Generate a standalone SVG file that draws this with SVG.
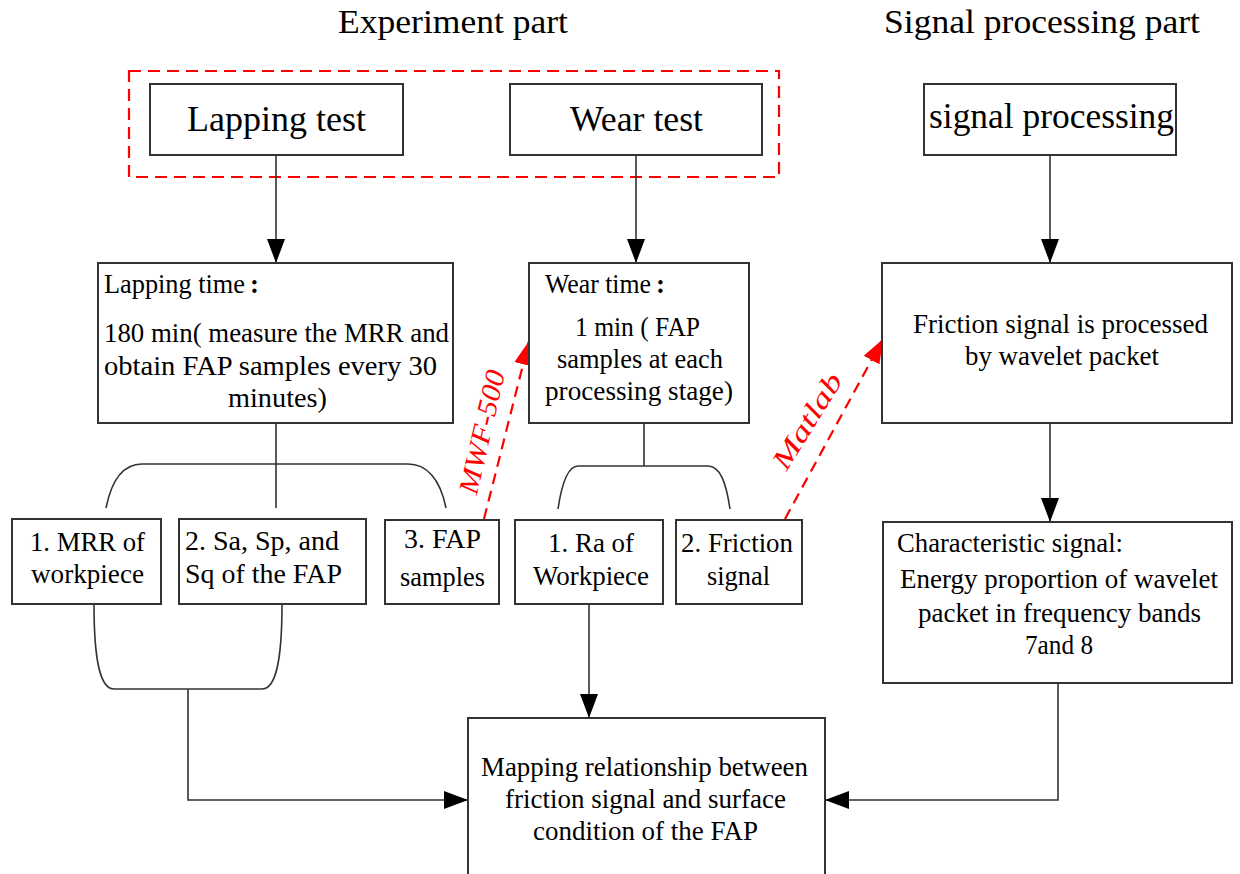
<svg xmlns="http://www.w3.org/2000/svg" width="1240" height="874" viewBox="0 0 1240 874">
  <defs>
    <marker id="arrow" markerUnits="userSpaceOnUse" markerWidth="24" markerHeight="18" viewBox="0 0 24 18" refX="24" refY="9" orient="auto">
      <path d="M0,0 L24,9 L0,18 z" fill="#000"/>
    </marker>
    <marker id="arrowRed" markerUnits="userSpaceOnUse" markerWidth="24" markerHeight="18" viewBox="0 0 24 18" refX="24" refY="9" orient="auto">
      <path d="M0,0 L24,9 L0,18 z" fill="#ff0000"/>
    </marker>
    <style>
      .box { fill: #fff; stroke: #333; stroke-width: 2; }
      .line { fill: none; stroke: #333; stroke-width: 1.6; }
      .red { fill: none; stroke: #ff0000; stroke-width: 2.2; stroke-dasharray: 11 7; }
      text { font-family: "Liberation Serif", "Noto Sans CJK SC", serif; fill: #000; }
      .title { font-size: 33px; }
      .big { font-size: 35px; }
      .t { font-size: 27px; }
      .lbl { font-size: 28px; font-style: italic; fill: #ff0000; }
    </style>
  </defs>
  <rect width="1240" height="874" fill="#fff"/>

  <!-- section headings -->
  <text class="title" x="338" y="33" textLength="230" lengthAdjust="spacingAndGlyphs">Experiment part</text>
  <text class="title" x="884" y="33" textLength="316" lengthAdjust="spacingAndGlyphs">Signal processing part</text>

  <!-- experiment grouping frame -->
  <rect x="129" y="71" width="650" height="106" fill="none" stroke="#ff0000" stroke-width="2.2" stroke-dasharray="12 7"/>

  <!-- connectors -->
  <g id="connectors">
    <line class="line" x1="276" y1="155" x2="276" y2="263" marker-end="url(#arrow)"/>
    <line class="line" x1="636" y1="155" x2="636" y2="263" marker-end="url(#arrow)"/>
    <line class="line" x1="1050" y1="155" x2="1050" y2="263" marker-end="url(#arrow)"/>
    <line class="line" x1="1050" y1="423" x2="1050" y2="522" marker-end="url(#arrow)"/>

    <!-- lapping branch brace -->
    <line class="line" x1="276" y1="423" x2="276" y2="508"/>
    <path class="line" d="M106,508 C112,478 124,464 142,464 L408,464 C426,464 440,478 446,508"/>

    <!-- wear branch brace -->
    <line class="line" x1="644" y1="423" x2="644" y2="466"/>
    <path class="line" d="M558,509 C562,482 568,466 578,466 L708,466 C720,466 726,482 730,509"/>

    <!-- lower brace joining results 1 and 2 -->
    <path class="line" d="M94,604 C94,660 100,689 114,689 L262,689 C276,689 282,660 282,604"/>
    <polyline class="line" points="188,689 188,800 468,800" marker-end="url(#arrow)"/>

    <line class="line" x1="589" y1="604" x2="589" y2="718" marker-end="url(#arrow)"/>
    <polyline class="line" points="1058,683 1058,800 825,800" marker-end="url(#arrow)"/>

    <!-- tool links -->
    <line class="red" x1="484" y1="519" x2="529" y2="341" marker-end="url(#arrowRed)"/>
    <line class="red" x1="785" y1="519" x2="883" y2="339" marker-end="url(#arrowRed)"/>
    <text class="lbl" transform="translate(491,434) rotate(-77)" x="-63" textLength="126" lengthAdjust="spacingAndGlyphs">MWF-500</text>
    <text class="lbl" transform="translate(815,426) rotate(-58)" x="-54" textLength="108" lengthAdjust="spacingAndGlyphs">Matlab</text>
  </g>

  <g id="lapping-test">
    <rect class="box" x="150" y="84" width="253" height="71"/>
    <text class="big" x="187" y="131" textLength="179" lengthAdjust="spacingAndGlyphs">Lapping test</text>
  </g>
  <g id="wear-test">
    <rect class="box" x="510" y="84" width="252" height="71"/>
    <text class="big" x="570" y="131" textLength="133" lengthAdjust="spacingAndGlyphs">Wear test</text>
  </g>
  <g id="signal-processing">
    <rect class="box" x="924" y="84" width="252" height="71"/>
    <text class="big" x="929" y="128" textLength="245" lengthAdjust="spacingAndGlyphs">signal processing</text>
  </g>

  <g id="lapping-time">
    <rect class="box" x="98" y="263" width="355" height="160"/>
    <text class="t" x="104" y="293"><tspan textLength="141" lengthAdjust="spacingAndGlyphs">Lapping time</tspan><tspan font-weight="bold" dx="5">:</tspan></text>
    <text class="t" x="104" y="342" textLength="345" lengthAdjust="spacingAndGlyphs">180 min( measure the MRR and</text>
    <text class="t" x="104" y="375" textLength="333" lengthAdjust="spacingAndGlyphs">obtain FAP samples  every 30</text>
    <text class="t" x="228" y="407" textLength="99" lengthAdjust="spacingAndGlyphs">minutes)</text>
  </g>
  <g id="wear-time">
    <rect class="box" x="529" y="263" width="220" height="160"/>
    <text class="t" x="545" y="293"><tspan textLength="106" lengthAdjust="spacingAndGlyphs">Wear time</tspan><tspan font-weight="bold" dx="5">:</tspan></text>
    <text class="t" x="575" y="336" textLength="125" lengthAdjust="spacingAndGlyphs">1 min ( FAP</text>
    <text class="t" x="557" y="368" textLength="166" lengthAdjust="spacingAndGlyphs">samples at each</text>
    <text class="t" x="545" y="400" textLength="188" lengthAdjust="spacingAndGlyphs">processing stage)</text>
  </g>
  <g id="wavelet-processing">
    <rect class="box" x="882" y="263" width="350" height="160"/>
    <text class="t" x="913" y="333" textLength="295" lengthAdjust="spacingAndGlyphs">Friction signal is processed</text>
    <text class="t" x="965" y="365" textLength="194" lengthAdjust="spacingAndGlyphs">by wavelet packet</text>
  </g>

  <g id="mrr">
    <rect class="box" x="12" y="519" width="149" height="85"/>
    <text class="t" x="30" y="551" textLength="115" lengthAdjust="spacingAndGlyphs">1. MRR of</text>
    <text class="t" x="31" y="583" textLength="113" lengthAdjust="spacingAndGlyphs">workpiece</text>
  </g>
  <g id="roughness-fap">
    <rect class="box" x="179" y="519" width="187" height="85"/>
    <text class="t" x="185" y="550" textLength="154" lengthAdjust="spacingAndGlyphs">2. Sa, Sp, and</text>
    <text class="t" x="185" y="583" textLength="157" lengthAdjust="spacingAndGlyphs">Sq of the FAP</text>
  </g>
  <g id="fap-samples">
    <rect class="box" x="385" y="520" width="114" height="84"/>
    <text class="t" x="404" y="548" textLength="77" lengthAdjust="spacingAndGlyphs">3. FAP</text>
    <text class="t" x="400" y="586" textLength="85" lengthAdjust="spacingAndGlyphs">samples</text>
  </g>
  <g id="ra-workpiece">
    <rect class="box" x="515" y="520" width="148" height="84"/>
    <text class="t" x="548" y="552" textLength="86" lengthAdjust="spacingAndGlyphs">1. Ra of</text>
    <text class="t" x="533" y="585" textLength="116" lengthAdjust="spacingAndGlyphs">Workpiece</text>
  </g>
  <g id="friction-signal">
    <rect class="box" x="676" y="520" width="126" height="84"/>
    <text class="t" x="681" y="552" textLength="112" lengthAdjust="spacingAndGlyphs">2. Friction</text>
    <text class="t" x="707" y="585" textLength="63" lengthAdjust="spacingAndGlyphs">signal</text>
  </g>
  <g id="characteristic-signal">
    <rect class="box" x="883" y="522" width="349" height="161"/>
    <text class="t" x="897" y="552" textLength="226" lengthAdjust="spacingAndGlyphs">Characteristic signal:</text>
    <text class="t" x="900" y="588" textLength="318" lengthAdjust="spacingAndGlyphs">Energy proportion of wavelet</text>
    <text class="t" x="918" y="622" textLength="283" lengthAdjust="spacingAndGlyphs">packet in frequency bands</text>
    <text class="t" x="1025" y="654" textLength="68" lengthAdjust="spacingAndGlyphs">7and 8</text>
  </g>
  <g id="mapping">
    <rect class="box" x="468" y="718" width="357" height="170"/>
    <text class="t" x="481" y="776" textLength="327" lengthAdjust="spacingAndGlyphs">Mapping relationship between</text>
    <text class="t" x="505" y="808" textLength="281" lengthAdjust="spacingAndGlyphs">friction signal and surface</text>
    <text class="t" x="533" y="840" textLength="225" lengthAdjust="spacingAndGlyphs">condition of the FAP</text>
  </g>
</svg>
